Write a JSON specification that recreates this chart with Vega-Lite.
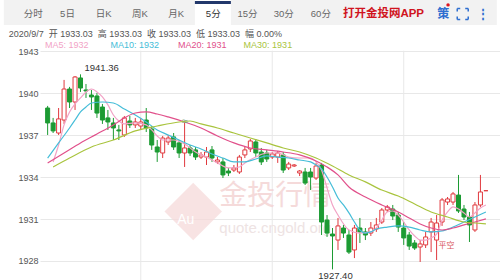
{
  "$schema": "https://vega.github.io/schema/vega-lite/v6.json",
  "width": 460,
  "height": 280,
  "autosize": "none",
  "padding": {"left": 40, "top": 0, "right": 0, "bottom": 0},
  "background": "white",
  "config": {"view": {"stroke": null}, "font": "Liberation Sans, Noto Sans CJK SC"},
  "resolve": {"axis": {"y": "independent", "x": "independent"}},
  "layer": [
    {
      "data": {"values": [{"i": -8, "i2": 82, "v": 1946.7, "v2": 1944.89}]},
      "mark": {"type": "rect", "fill": "#f2f2f2"},
      "encoding": {
        "x": {"field": "i", "type": "quantitative", "scale": {"domain": [-0.482, 81.661], "nice": false, "zero": false}, "axis": null},
        "x2": {"field": "i2"},
        "y": {"field": "v", "type": "quantitative", "scale": {"domain": [1926.64, 1946.68], "nice": false, "zero": false}, "axis": {"values": [1928, 1931, 1934, 1937, 1940, 1943], "format": "d", "grid": true, "gridColor": "#e8e8e8", "domain": false, "ticks": false, "labelFontSize": 9, "labelColor": "#555", "labelPadding": 2, "title": null}},
        "y2": {"field": "v2"}
      }
    },
    {
      "data": {"values": [{"i": 26.88, "i2": 33.45, "v": 1946.7, "v2": 1944.89}]},
      "mark": {"type": "rect", "fill": "white"},
      "encoding": {
        "x": {"field": "i", "type": "quantitative", "axis": null},
        "x2": {"field": "i2"},
        "y": {"field": "v", "type": "quantitative", "axis": null},
        "y2": {"field": "v2"}
      }
    },
    {
      "data": {"values": [{"i": 26.88, "i2": 33.45, "v": 1946.6, "v2": 1946.4}]},
      "mark": {"type": "rect", "fill": "#22386b"},
      "encoding": {
        "x": {"field": "i", "type": "quantitative", "axis": null},
        "x2": {"field": "i2"},
        "y": {"field": "v", "type": "quantitative", "axis": null},
        "y2": {"field": "v2"}
      }
    },
    {
      "data": {"values": [{"i": 17, "v": 1943.05, "v2": 1926.64}, {"i": 41, "v": 1943.05, "v2": 1926.64}, {"i": 65, "v": 1943.05, "v2": 1926.64}]},
      "mark": {"type": "rule", "color": "#e8e8e8", "strokeWidth": 1},
      "encoding": {
        "x": {"field": "i", "type": "quantitative", "axis": null},
        "y": {"field": "v", "type": "quantitative", "axis": null},
        "y2": {"field": "v2"}
      }
    },
    {
      "data": {"values": [{"i": 26.57, "v": 1931.54}]},
      "mark": {"type": "point", "shape": "diamond", "size": 3300, "filled": true, "fill": "#f6d9d9", "opacity": 0.75, "strokeWidth": 0},
      "encoding": {
        "x": {"field": "i", "type": "quantitative", "axis": null},
        "y": {"field": "v", "type": "quantitative", "axis": null}
      }
    },
    {
      "data": {"values": [{"i": 25.2, "v": 1930.93, "t": "Au"}]},
      "mark": {"type": "text", "fontSize": 14, "color": "white", "align": "center", "baseline": "middle"},
      "encoding": {
        "x": {"field": "i", "type": "quantitative", "axis": null},
        "y": {"field": "v", "type": "quantitative", "axis": null},
        "text": {"field": "t"}
      }
    },
    {
      "data": {"values": [{"i": 31.34, "v": 1932.58, "t": "金投行情"}]},
      "mark": {"type": "text", "fontSize": 28, "color": "#f3d2d2", "opacity": 0.8, "align": "left", "baseline": "middle", "font": "Noto Sans CJK SC"},
      "encoding": {
        "x": {"field": "i", "type": "quantitative", "axis": null},
        "y": {"field": "v", "type": "quantitative", "axis": null},
        "text": {"field": "t"}
      }
    },
    {
      "data": {"values": [{"i": 31.34, "v": 1930.36, "t": "quote.cngold.org"}]},
      "mark": {"type": "text", "fontSize": 15, "color": "#eee3e3", "align": "left", "baseline": "middle"},
      "encoding": {
        "x": {"field": "i", "type": "quantitative", "axis": null},
        "y": {"field": "v", "type": "quantitative", "axis": null},
        "text": {"field": "t"}
      }
    },
    {
      "data": {"values": [
        {"i":0,"o":1938.95,"h":1939.10,"l":1937.02,"c":1937.88},
        {"i":1,"o":1937.88,"h":1938.24,"l":1937.16,"c":1937.31},
        {"i":2,"o":1937.16,"h":1938.95,"l":1937.02,"c":1938.17},
        {"i":3,"o":1938.09,"h":1940.96,"l":1937.81,"c":1940.31},
        {"i":4,"o":1940.31,"h":1940.46,"l":1938.95,"c":1939.38},
        {"i":5,"o":1939.38,"h":1941.24,"l":1938.81,"c":1941.17},
        {"i":6,"o":1941.10,"h":1941.36,"l":1940.10,"c":1940.38},
        {"i":7,"o":1940.24,"h":1940.67,"l":1939.67,"c":1940.17},
        {"i":8,"o":1939.88,"h":1940.24,"l":1938.81,"c":1939.74},
        {"i":9,"o":1939.81,"h":1940.03,"l":1938.24,"c":1938.59},
        {"i":10,"o":1939.02,"h":1939.24,"l":1937.81,"c":1938.09},
        {"i":11,"o":1938.24,"h":1938.81,"l":1937.38,"c":1937.95},
        {"i":12,"o":1937.88,"h":1938.24,"l":1936.66,"c":1937.52},
        {"i":13,"o":1937.38,"h":1937.74,"l":1936.66,"c":1937.31},
        {"i":14,"o":1937.02,"h":1938.38,"l":1936.88,"c":1938.24},
        {"i":15,"o":1938.02,"h":1938.38,"l":1937.52,"c":1937.74},
        {"i":16,"o":1937.74,"h":1938.24,"l":1937.52,"c":1937.95},
        {"i":17,"o":1937.66,"h":1938.24,"l":1937.38,"c":1937.95},
        {"i":18,"o":1938.09,"h":1938.95,"l":1937.23,"c":1937.52},
        {"i":19,"o":1937.45,"h":1937.66,"l":1935.95,"c":1936.30},
        {"i":20,"o":1936.16,"h":1936.66,"l":1935.09,"c":1935.80},
        {"i":21,"o":1935.73,"h":1936.95,"l":1935.37,"c":1936.80},
        {"i":22,"o":1936.52,"h":1937.02,"l":1936.30,"c":1936.80},
        {"i":23,"o":1936.88,"h":1937.16,"l":1935.95,"c":1936.16},
        {"i":24,"o":1936.45,"h":1936.66,"l":1935.37,"c":1935.73},
        {"i":25,"o":1935.73,"h":1937.88,"l":1934.73,"c":1936.09},
        {"i":26,"o":1936.09,"h":1936.30,"l":1935.52,"c":1935.73},
        {"i":27,"o":1935.95,"h":1936.16,"l":1935.23,"c":1935.44},
        {"i":28,"o":1935.44,"h":1935.80,"l":1935.30,"c":1935.59},
        {"i":29,"o":1935.44,"h":1936.16,"l":1934.87,"c":1935.80},
        {"i":30,"o":1935.95,"h":1936.23,"l":1935.09,"c":1935.37},
        {"i":31,"o":1935.09,"h":1935.44,"l":1934.94,"c":1935.23},
        {"i":32,"o":1935.09,"h":1935.37,"l":1933.94,"c":1934.16},
        {"i":33,"o":1934.44,"h":1934.66,"l":1934.08,"c":1934.30},
        {"i":34,"o":1934.51,"h":1934.87,"l":1934.37,"c":1934.66},
        {"i":35,"o":1934.37,"h":1935.59,"l":1934.23,"c":1935.44},
        {"i":36,"o":1935.59,"h":1936.16,"l":1935.37,"c":1935.95},
        {"i":37,"o":1936.02,"h":1936.73,"l":1935.80,"c":1936.59},
        {"i":38,"o":1936.52,"h":1936.73,"l":1935.44,"c":1935.73},
        {"i":39,"o":1935.80,"h":1936.09,"l":1934.87,"c":1935.09},
        {"i":40,"o":1935.73,"h":1935.95,"l":1935.09,"c":1935.30},
        {"i":41,"o":1935.44,"h":1935.80,"l":1935.30,"c":1935.66},
        {"i":42,"o":1935.44,"h":1935.87,"l":1935.02,"c":1935.73},
        {"i":43,"o":1935.59,"h":1935.80,"l":1934.30,"c":1934.51},
        {"i":44,"o":1934.66,"h":1935.09,"l":1934.51,"c":1934.94},
        {"i":45,"o":1934.80,"h":1934.94,"l":1934.73,"c":1934.87},
        {"i":46,"o":1934.30,"h":1934.51,"l":1934.08,"c":1934.44},
        {"i":47,"o":1934.37,"h":1934.66,"l":1933.44,"c":1933.58},
        {"i":48,"o":1934.37,"h":1934.66,"l":1933.08,"c":1934.01},
        {"i":49,"o":1933.94,"h":1935.02,"l":1933.80,"c":1934.80},
        {"i":50,"o":1934.87,"h":1935.02,"l":1929.86,"c":1930.79},
        {"i":51,"o":1930.93,"h":1931.29,"l":1929.72,"c":1930.00},
        {"i":52,"o":1929.93,"h":1930.36,"l":1927.40,"c":1929.79},
        {"i":53,"o":1929.50,"h":1931.08,"l":1928.79,"c":1930.51},
        {"i":54,"o":1930.36,"h":1930.58,"l":1929.65,"c":1930.00},
        {"i":55,"o":1929.86,"h":1930.22,"l":1928.50,"c":1928.64},
        {"i":56,"o":1928.79,"h":1930.58,"l":1928.21,"c":1930.36},
        {"i":57,"o":1930.36,"h":1931.08,"l":1929.29,"c":1930.08},
        {"i":58,"o":1930.08,"h":1930.36,"l":1929.50,"c":1929.86},
        {"i":59,"o":1930.00,"h":1930.79,"l":1929.79,"c":1930.36},
        {"i":60,"o":1930.29,"h":1931.08,"l":1930.08,"c":1930.58},
        {"i":61,"o":1930.79,"h":1931.79,"l":1930.65,"c":1931.65},
        {"i":62,"o":1931.65,"h":1932.01,"l":1931.51,"c":1931.87},
        {"i":63,"o":1931.72,"h":1932.01,"l":1930.93,"c":1931.22},
        {"i":64,"o":1931.29,"h":1931.51,"l":1930.08,"c":1930.43},
        {"i":65,"o":1930.36,"h":1930.79,"l":1929.15,"c":1929.65},
        {"i":66,"o":1929.86,"h":1930.08,"l":1928.79,"c":1929.07},
        {"i":67,"o":1929.29,"h":1929.50,"l":1928.79,"c":1928.93},
        {"i":68,"o":1929.00,"h":1929.50,"l":1927.93,"c":1929.22},
        {"i":69,"o":1929.15,"h":1930.08,"l":1928.93,"c":1929.72},
        {"i":70,"o":1930.08,"h":1931.08,"l":1928.64,"c":1930.79},
        {"i":71,"o":1929.50,"h":1931.29,"l":1928.07,"c":1930.72},
        {"i":72,"o":1930.79,"h":1932.51,"l":1930.51,"c":1932.37},
        {"i":73,"o":1932.22,"h":1932.58,"l":1932.01,"c":1932.44},
        {"i":74,"o":1932.22,"h":1932.94,"l":1932.01,"c":1932.80},
        {"i":75,"o":1932.72,"h":1934.16,"l":1931.44,"c":1931.58},
        {"i":76,"o":1931.72,"h":1932.01,"l":1930.93,"c":1931.15},
        {"i":77,"o":1931.15,"h":1931.51,"l":1929.36,"c":1930.58},
        {"i":78,"o":1930.22,"h":1932.22,"l":1930.08,"c":1932.01},
        {"i":79,"o":1932.01,"h":1934.16,"l":1931.87,"c":1932.94},
        {"i":80,"o":1933.03,"h":1933.03,"l":1933.03,"c":1933.03}
      ]},
      "layer": [
        {
          "mark": {"type": "rule", "strokeWidth": 1},
          "encoding": {
            "x": {"field": "i", "type": "quantitative", "axis": null},
            "y": {"field": "h", "type": "quantitative", "axis": null},
            "y2": {"field": "l"},
            "color": {"condition": {"test": "datum.c >= datum.o", "value": "#e0393e"}, "value": "#1c9b33"}
          }
        },
        {
          "mark": {"type": "bar", "width": 4, "strokeWidth": 1},
          "encoding": {
            "x": {"field": "i", "type": "quantitative", "axis": null},
            "y": {"field": "o", "type": "quantitative", "axis": null},
            "y2": {"field": "c"},
            "fill": {"condition": {"test": "datum.c >= datum.o", "value": "white"}, "value": "#1c9b33"},
            "stroke": {"condition": {"test": "datum.c >= datum.o", "value": "#e0393e"}, "value": "#1c9b33"}
          }
        }
      ]
    },
    {
      "data": {"values": [
        {"ma":"MA5","i":1,"v":1935.09},{"ma":"MA5","i":2,"v":1936.30},{"ma":"MA5","i":3,"v":1937.74},{"ma":"MA5","i":4,"v":1938.67},
        {"ma":"MA5","i":5,"v":1939.24},{"ma":"MA5","i":6,"v":1939.67},{"ma":"MA5","i":7,"v":1940.10},{"ma":"MA5","i":8,"v":1940.31},
        {"ma":"MA5","i":9,"v":1940.10},{"ma":"MA5","i":10,"v":1939.74},{"ma":"MA5","i":11,"v":1939.17},{"ma":"MA5","i":12,"v":1938.45},
        {"ma":"MA5","i":13,"v":1938.02},{"ma":"MA5","i":14,"v":1937.81},{"ma":"MA5","i":16,"v":1937.88},{"ma":"MA5","i":18,"v":1937.74},
        {"ma":"MA5","i":19,"v":1937.38},{"ma":"MA5","i":20,"v":1936.95},{"ma":"MA5","i":21,"v":1936.66},{"ma":"MA5","i":23,"v":1936.66},
        {"ma":"MA5","i":25,"v":1936.38},{"ma":"MA5","i":27,"v":1935.80},{"ma":"MA5","i":29,"v":1935.44},{"ma":"MA5","i":31,"v":1935.02},
        {"ma":"MA5","i":33,"v":1934.66},{"ma":"MA5","i":35,"v":1934.73},{"ma":"MA5","i":36,"v":1935.02},{"ma":"MA5","i":38,"v":1935.44},
        {"ma":"MA5","i":40,"v":1935.73},{"ma":"MA5","i":42,"v":1935.73},{"ma":"MA5","i":44,"v":1935.44},{"ma":"MA5","i":46,"v":1935.37},
        {"ma":"MA5","i":48,"v":1935.37},{"ma":"MA5","i":49,"v":1935.09},{"ma":"MA5","i":50,"v":1934.51},{"ma":"MA5","i":51,"v":1933.23},
        {"ma":"MA5","i":52,"v":1932.01},{"ma":"MA5","i":53,"v":1931.29},{"ma":"MA5","i":55,"v":1930.22},{"ma":"MA5","i":57,"v":1930.00},
        {"ma":"MA5","i":59,"v":1930.08},{"ma":"MA5","i":60,"v":1930.36},{"ma":"MA5","i":61,"v":1930.93},{"ma":"MA5","i":62,"v":1931.51},
        {"ma":"MA5","i":63,"v":1931.58},{"ma":"MA5","i":64,"v":1931.29},{"ma":"MA5","i":65,"v":1930.79},{"ma":"MA5","i":66,"v":1930.22},
        {"ma":"MA5","i":67,"v":1929.79},{"ma":"MA5","i":68,"v":1929.50},{"ma":"MA5","i":69,"v":1929.50},{"ma":"MA5","i":70,"v":1929.65},
        {"ma":"MA5","i":71,"v":1929.93},{"ma":"MA5","i":72,"v":1930.93},{"ma":"MA5","i":73,"v":1931.51},{"ma":"MA5","i":74,"v":1931.87},
        {"ma":"MA5","i":75,"v":1931.72},{"ma":"MA5","i":76,"v":1931.44},{"ma":"MA5","i":77,"v":1931.15},{"ma":"MA5","i":78,"v":1931.44},
        {"ma":"MA5","i":79,"v":1931.79},{"ma":"MA5","i":80,"v":1932.01},
        {"ma":"MA10","i":0,"v":1935.37},{"ma":"MA10","i":2,"v":1936.45},{"ma":"MA10","i":4,"v":1937.52},{"ma":"MA10","i":5,"v":1938.09},
        {"ma":"MA10","i":6,"v":1938.67},{"ma":"MA10","i":7,"v":1939.02},{"ma":"MA10","i":8,"v":1939.31},{"ma":"MA10","i":10,"v":1939.38},
        {"ma":"MA10","i":12,"v":1939.31},{"ma":"MA10","i":14,"v":1938.88},{"ma":"MA10","i":16,"v":1938.45},{"ma":"MA10","i":18,"v":1937.95},
        {"ma":"MA10","i":20,"v":1937.38},{"ma":"MA10","i":22,"v":1937.02},{"ma":"MA10","i":24,"v":1936.66},{"ma":"MA10","i":26,"v":1936.30},
        {"ma":"MA10","i":28,"v":1936.02},{"ma":"MA10","i":30,"v":1935.66},{"ma":"MA10","i":32,"v":1935.37},{"ma":"MA10","i":34,"v":1935.09},
        {"ma":"MA10","i":36,"v":1935.09},{"ma":"MA10","i":38,"v":1935.30},{"ma":"MA10","i":40,"v":1935.52},{"ma":"MA10","i":42,"v":1935.44},
        {"ma":"MA10","i":44,"v":1935.37},{"ma":"MA10","i":46,"v":1935.23},{"ma":"MA10","i":48,"v":1935.09},{"ma":"MA10","i":49,"v":1934.87},
        {"ma":"MA10","i":50,"v":1934.59},{"ma":"MA10","i":51,"v":1934.01},{"ma":"MA10","i":52,"v":1933.30},{"ma":"MA10","i":53,"v":1932.51},
        {"ma":"MA10","i":54,"v":1932.01},{"ma":"MA10","i":55,"v":1931.44},{"ma":"MA10","i":56,"v":1930.79},{"ma":"MA10","i":57,"v":1930.22},
        {"ma":"MA10","i":58,"v":1930.00},{"ma":"MA10","i":59,"v":1930.08},{"ma":"MA10","i":60,"v":1930.29},{"ma":"MA10","i":62,"v":1930.43},
        {"ma":"MA10","i":64,"v":1930.51},{"ma":"MA10","i":66,"v":1930.43},{"ma":"MA10","i":68,"v":1930.22},{"ma":"MA10","i":70,"v":1930.08},
        {"ma":"MA10","i":72,"v":1930.15},{"ma":"MA10","i":74,"v":1930.43},{"ma":"MA10","i":76,"v":1930.79},{"ma":"MA10","i":78,"v":1931.15},
        {"ma":"MA10","i":80,"v":1931.51},
        {"ma":"MA20","i":0,"v":1935.02},{"ma":"MA20","i":3,"v":1935.73},{"ma":"MA20","i":6,"v":1936.45},{"ma":"MA20","i":9,"v":1937.09},
        {"ma":"MA20","i":12,"v":1937.74},{"ma":"MA20","i":14,"v":1938.24},{"ma":"MA20","i":16,"v":1938.59},{"ma":"MA20","i":18,"v":1938.67},
        {"ma":"MA20","i":20,"v":1938.52},{"ma":"MA20","i":22,"v":1938.31},{"ma":"MA20","i":25,"v":1937.95},{"ma":"MA20","i":28,"v":1937.52},
        {"ma":"MA20","i":31,"v":1936.95},{"ma":"MA20","i":34,"v":1936.45},{"ma":"MA20","i":37,"v":1936.09},{"ma":"MA20","i":40,"v":1935.95},
        {"ma":"MA20","i":43,"v":1935.80},{"ma":"MA20","i":46,"v":1935.59},{"ma":"MA20","i":49,"v":1935.16},{"ma":"MA20","i":51,"v":1934.73},
        {"ma":"MA20","i":53,"v":1934.16},{"ma":"MA20","i":55,"v":1933.30},{"ma":"MA20","i":58,"v":1932.58},{"ma":"MA20","i":61,"v":1932.01},
        {"ma":"MA20","i":64,"v":1931.51},{"ma":"MA20","i":66,"v":1931.08},{"ma":"MA20","i":68,"v":1930.65},{"ma":"MA20","i":70,"v":1930.36},
        {"ma":"MA20","i":72,"v":1930.22},{"ma":"MA20","i":74,"v":1930.36},{"ma":"MA20","i":76,"v":1930.58},{"ma":"MA20","i":78,"v":1930.79},
        {"ma":"MA20","i":80,"v":1931.01},
        {"ma":"MA30","i":1,"v":1934.73},{"ma":"MA30","i":4,"v":1935.37},{"ma":"MA30","i":8,"v":1936.16},{"ma":"MA30","i":12,"v":1936.66},
        {"ma":"MA30","i":16,"v":1937.31},{"ma":"MA30","i":20,"v":1937.66},{"ma":"MA30","i":24,"v":1937.95},{"ma":"MA30","i":26,"v":1938.02},
        {"ma":"MA30","i":28,"v":1937.81},{"ma":"MA30","i":31,"v":1937.52},{"ma":"MA30","i":34,"v":1937.16},{"ma":"MA30","i":37,"v":1936.80},
        {"ma":"MA30","i":40,"v":1936.45},{"ma":"MA30","i":43,"v":1936.09},{"ma":"MA30","i":46,"v":1935.80},{"ma":"MA30","i":49,"v":1935.37},
        {"ma":"MA30","i":52,"v":1934.80},{"ma":"MA30","i":55,"v":1934.16},{"ma":"MA30","i":58,"v":1933.66},{"ma":"MA30","i":61,"v":1933.08},
        {"ma":"MA30","i":64,"v":1932.65},{"ma":"MA30","i":67,"v":1932.08},{"ma":"MA30","i":70,"v":1931.51},{"ma":"MA30","i":73,"v":1931.15},
        {"ma":"MA30","i":76,"v":1930.79},{"ma":"MA30","i":78,"v":1930.72},{"ma":"MA30","i":80,"v":1930.65}
      ]},
      "mark": {"type": "line", "interpolate": "monotone", "strokeWidth": 1.2},
      "encoding": {
        "x": {"field": "i", "type": "quantitative", "axis": null},
        "y": {"field": "v", "type": "quantitative", "axis": null},
        "color": {"field": "ma", "type": "nominal", "scale": {"domain": ["MA5", "MA10", "MA20", "MA30"], "range": ["#f2a3c6", "#45bdd8", "#e1508b", "#a9c43e"]}, "legend": null}
      }
    },
    {
      "data": {"values": [
        {"ma": "MA5", "t": "MA5: 1932", "i": -0.48, "v": 1943.46},
        {"ma": "MA10", "t": "MA10: 1932", "i": 11.48, "v": 1943.46},
        {"ma": "MA20", "t": "MA20: 1931", "i": 23.8, "v": 1943.46},
        {"ma": "MA30", "t": "MA30: 1931", "i": 35.77, "v": 1943.46}
      ]},
      "mark": {"type": "text", "fontSize": 9, "align": "left", "baseline": "middle"},
      "encoding": {
        "x": {"field": "i", "type": "quantitative", "axis": null},
        "y": {"field": "v", "type": "quantitative", "axis": null},
        "text": {"field": "t"},
        "color": {"field": "ma", "type": "nominal", "legend": null}
      }
    },
    {
      "data": {"values": [{"i": -7.09, "v": 1944.25, "t": "2020/9/7 \u00a0开 1933.03 \u00a0高 1933.03 \u00a0收 1933.03 \u00a0低 1933.03 \u00a0幅 0.00%"}]},
      "mark": {"type": "text", "fontSize": 9, "align": "left", "baseline": "middle", "color": "#555"},
      "encoding": {
        "x": {"field": "i", "type": "quantitative", "axis": null},
        "y": {"field": "v", "type": "quantitative", "axis": null},
        "text": {"field": "t"}
      }
    },
    {
      "data": {"values": [
        {"t": "分时", "i": -2.625, "v": 1945.68}, {"t": "5日", "i": 3.625, "v": 1945.68}, {"t": "日K", "i": 10.232, "v": 1945.68},
        {"t": "周K", "i": 16.839, "v": 1945.68}, {"t": "月K", "i": 23.446, "v": 1945.68}, {"t": "5分", "i": 30.232, "v": 1945.68},
        {"t": "15分", "i": 36.482, "v": 1945.68}, {"t": "30分", "i": 43.089, "v": 1945.68}, {"t": "60分", "i": 49.875, "v": 1945.68}
      ]},
      "mark": {"type": "text", "fontSize": 9.5, "align": "center", "baseline": "middle"},
      "encoding": {
        "x": {"field": "i", "type": "quantitative", "axis": null},
        "y": {"field": "v", "type": "quantitative", "axis": null},
        "text": {"field": "t"},
        "color": {"condition": {"test": "datum.t === '5分'", "value": "#333333"}, "value": "#666666"}
      }
    },
    {
      "data": {"values": [{"i": 61.3, "v": 1945.68, "t": "打开金投网APP"}]},
      "mark": {"type": "text", "fontSize": 11.5, "fontWeight": "bold", "align": "center", "baseline": "middle", "color": "#d0141e"},
      "encoding": {
        "x": {"field": "i", "type": "quantitative", "axis": null},
        "y": {"field": "v", "type": "quantitative", "axis": null},
        "text": {"field": "t"}
      }
    },
    {
      "data": {"values": [{"i": 72.2, "v": 1945.68, "t": "策"}, {"i": 79.52, "v": 1945.68, "t": "⋮"}]},
      "mark": {"type": "text", "fontSize": 12, "fontWeight": "bold", "align": "center", "baseline": "middle", "color": "#2f6fd0"},
      "encoding": {
        "x": {"field": "i", "type": "quantitative", "axis": null},
        "y": {"field": "v", "type": "quantitative", "axis": null},
        "text": {"field": "t"}
      }
    },
    {
      "data": {"values": [{"i": 75.77, "v": 1945.68}]},
      "mark": {"type": "point", "shape": "square", "size": 121, "filled": false, "stroke": "#2f6fd0", "strokeWidth": 1.5, "strokeDash": [3, 5, 3, 0], "opacity": 1},
      "encoding": {
        "x": {"field": "i", "type": "quantitative", "axis": null},
        "y": {"field": "v", "type": "quantitative", "axis": null}
      }
    },
    {
      "data": {"values": [{"i": 73.09, "v": 1946.33}]},
      "mark": {"type": "point", "shape": "circle", "size": 12, "filled": true, "color": "#e0141e", "opacity": 1},
      "encoding": {
        "x": {"field": "i", "type": "quantitative", "axis": null},
        "y": {"field": "v", "type": "quantitative", "axis": null}
      }
    },
    {
      "data": {"values": [{"i": 6, "v": 1941.36, "t": "1941.36"}]},
      "mark": {"type": "text", "fontSize": 9.5, "align": "left", "baseline": "bottom", "dx": 4, "dy": -1, "color": "#333"},
      "encoding": {
        "x": {"field": "i", "type": "quantitative", "axis": null},
        "y": {"field": "v", "type": "quantitative", "axis": null},
        "text": {"field": "t"}
      }
    },
    {
      "data": {"values": [{"i": 52, "v": 1927.40, "t": "1927.40"}]},
      "mark": {"type": "text", "fontSize": 9.5, "align": "center", "baseline": "top", "dx": 3, "dy": 2, "color": "#333"},
      "encoding": {
        "x": {"field": "i", "type": "quantitative", "axis": null},
        "y": {"field": "v", "type": "quantitative", "axis": null},
        "text": {"field": "t"}
      }
    },
    {
      "data": {"values": [{"i": 72.8, "v": 1929.07, "t": "平空"}]},
      "mark": {"type": "text", "fontSize": 8, "align": "center", "baseline": "middle", "color": "#d9555a"},
      "encoding": {
        "x": {"field": "i", "type": "quantitative", "axis": null},
        "y": {"field": "v", "type": "quantitative", "axis": null},
        "text": {"field": "t"}
      }
    },
    {
      "data": {"values": [{"i": 25, "v": 1937.95, "t": "≈"}]},
      "mark": {"type": "text", "fontSize": 11, "align": "center", "baseline": "middle", "color": "#7f9f7f"},
      "encoding": {
        "x": {"field": "i", "type": "quantitative", "axis": null},
        "y": {"field": "v", "type": "quantitative", "axis": null},
        "text": {"field": "t"}
      }
    }
  ]
}
